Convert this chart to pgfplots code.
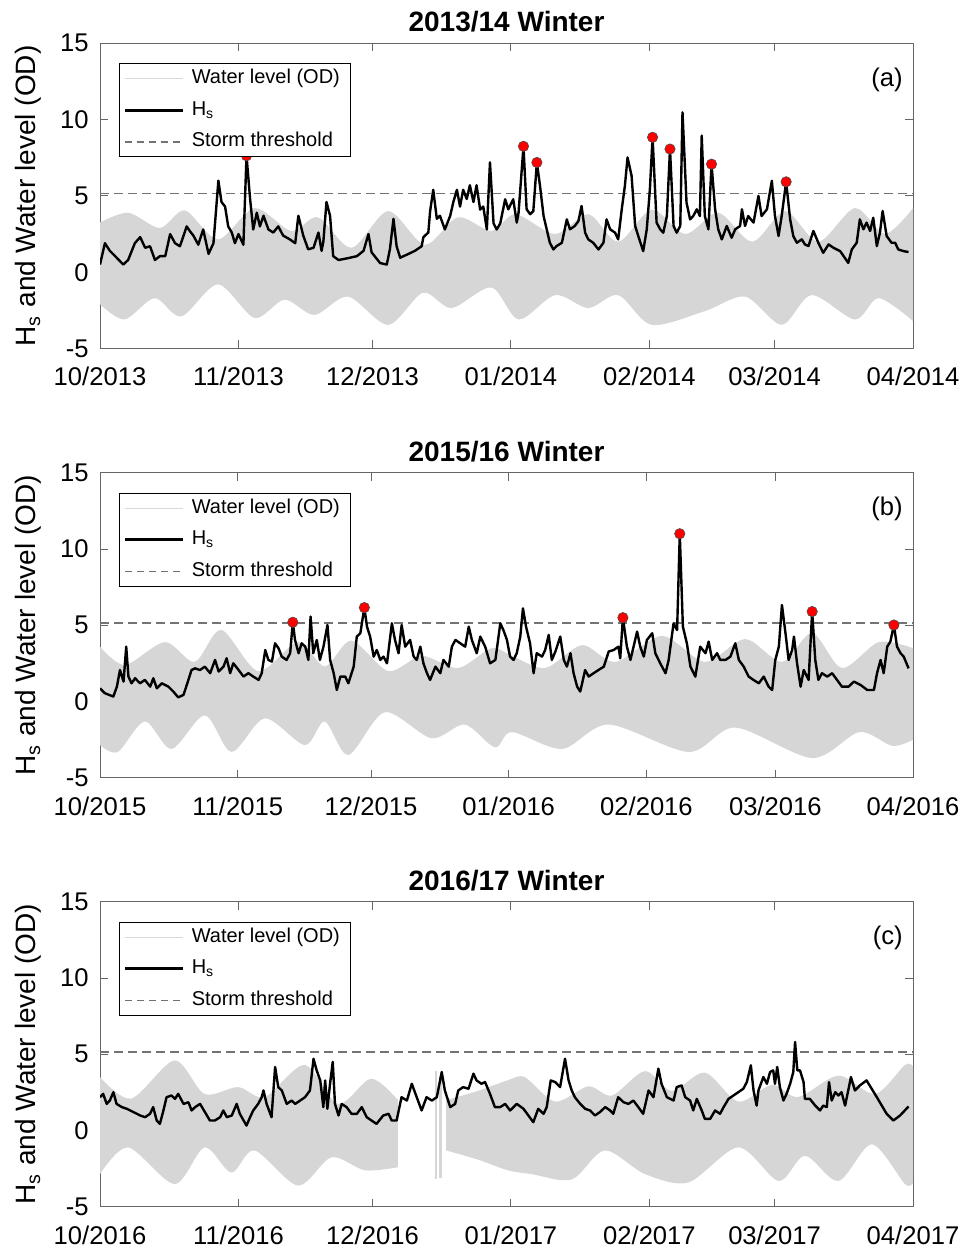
\documentclass[border=0pt]{standalone}
\usepackage{fontspec}
\setmainfont{Liberation Sans}
\usepackage{pgfplots}
\pgfplotsset{compat=1.18}
\usepgfplotslibrary{fillbetween}

\definecolor{wlgray}{gray}{0.84}
\definecolor{thrgray}{gray}{0.45}

\pgfplotsset{
  panel/.style={
    scale only axis, width=406.5pt, height=152.6pt,
    xmin=0, ymin=-5, ymax=15, ytick={-5,0,5,10,15},
    tick align=inside, major tick length=4pt,
    axis line style={black!60, line width=0.5pt},
    tick style={black!60, line width=0.5pt},
    ticklabel style={font=\fontsize{12.8}{15}\selectfont},
    xticklabel style={anchor=base, yshift=-18.7pt},
    yticklabel style={anchor=east, inner sep=0pt, xshift=-5.5pt},
    /pgf/number format/assume math mode=true,
    ylabel={H\textsubscript{s} and Water level (OD)},
    ylabel style={font=\fontsize{14}{16}\selectfont, at={(axis description cs:-0.079,0.5)}, anchor=base},
    every axis title shift=0pt,
    title style={font=\bfseries\fontsize{14}{16}\selectfont, at={(0.5,1)}, anchor=base, yshift=5.75pt},
    legend cell align=left,
    legend style={at={(0.0237,0.9345)}, anchor=north west, draw=black, line width=0.5pt,
      fill=white, inner xsep=2pt, inner ysep=2pt, row sep=4.8pt,
      font=\fontsize{10}{12}\selectfont,
      nodes={inner xsep=3.5pt, inner ysep=0pt, text height=8pt, text depth=3pt}},
    legend image code/.code={\draw[##1] (0pt,0pt) -- (29pt,0pt);},
  },
  hs/.style={black, line width=1.2pt, line join=round},
  thr/.style={thrgray, line width=0.8pt, dash pattern=on 4.5pt off 2.5pt},
  dots/.style={only marks, mark=*, mark size=2.6pt, mark options={fill=red, draw=black!70, line width=0.3pt}},
  band/.style={fill=wlgray, draw=none},
}

\newcommand{\legendthree}{%
  \addlegendimage{black!15, line width=0.5pt}\addlegendentry{Water level (OD)}
  \addlegendimage{black, line width=1.5pt}\addlegendentry{H\textsubscript{s}}
  \addlegendimage{thrgray, line width=0.7pt, dash pattern=on 3.5pt off 2.5pt}\addlegendentry{Storm threshold}
}

\begin{document}
\begin{tikzpicture}

% (a) 2013/14
\begin{axis}[panel, at={(50pt,-21.65pt)}, anchor=north west, xmax=182,
  xtick={0,31,61,92,123,151,182},
  xticklabels={10/2013,11/2013,12/2013,01/2014,02/2014,03/2014,04/2014},
  title={2013/14 Winter}]
\legendthree
\addplot[name path=ua, draw=none, smooth, forget plot] coordinates {
(0,3.25)(6.3,3.9)(13.4,2.9)(19,4.05)(26.4,2.15)(34.6,4.2)(42.8,2.7)(48.8,3.6)(56.3,1.6)
(64.5,4.0)(72.7,1.8)(80.1,3.6)(87.6,2.7)(93,3.8)(101.9,2.5)(109.3,3.8)(116,2.0)(123.5,4.1)
(131,2.5)(138.4,3.9)(146,2.0)(153.4,4.0)(160.8,2.0)(169,4.2)(175.7,2.5)(182,4.2)};
\addplot[name path=la, draw=none, smooth, forget plot] coordinates {
(0,-2.1)(5.5,-3.1)(12.2,-1.7)(18.2,-2.9)(26.4,-0.8)(34.6,-3.0)(41.3,-1.8)(48,-2.8)(55.5,-1.6)
(64.5,-3.45)(72.3,-1.35)(78.7,-2.35)(87.6,-1.0)(93.7,-3.1)(101.9,-1.5)(109.3,-2.35)(116,-1.5)
(123.5,-3.45)(135.4,-2.55)(144.4,-1.6)(152.6,-3.45)(159.3,-1.5)(169,-3.1)(174.3,-1.7)(182,-3.2)};
\addplot[band, forget plot] fill between[of=ua and la];
\addplot[thr, forget plot] coordinates {(0,5.15)(182,5.15)};
\addplot[hs, forget plot] coordinates {
(0,0.5)(1.1,1.9)(2.2,1.4)(3.4,1.05)(5.2,0.5)(6.3,0.8)(7.8,1.9)(9.0,2.3)(10.1,1.6)(11.2,1.7)
(12.3,0.8)(13.4,1.05)(14.6,1.05)(15.7,2.5)(16.8,1.9)(17.9,1.7)(19.4,3.0)(20.1,2.7)(20.9,2.4)
(22.0,1.8)(23.1,2.8)(24.3,1.2)(25.4,1.9)(26.5,6.0)(27.2,4.6)(28.0,4.3)(28.7,3.0)(29.5,2.6)
(30.2,1.9)(31.0,2.5)(32.1,1.8)(32.8,7.63)(33.6,4.8)(34.3,2.8)(35.1,3.9)(35.8,3.0)(36.6,3.7)
(37.7,2.8)(38.8,2.6)(39.9,3.0)(41.0,2.4)(42.5,2.15)(43.7,1.9)(44.4,3.7)(45.5,2.4)(46.6,1.5)
(47.8,1.6)(48.9,2.6)(49.6,1.4)(50.0,2.0)(50.7,4.6)(51.5,3.7)(52.2,1.05)(53.4,0.8)(55.2,0.9)
(57.5,1.05)(59.0,1.4)(60.1,2.5)(60.8,1.3)(62.7,0.6)(64.2,0.5)(64.9,1.5)(65.7,3.5)(66.4,1.7)
(67.2,0.95)(68.7,1.15)(70.5,1.4)(72.0,1.7)(72.4,2.3)(73.5,2.6)(73.9,4.0)(74.6,5.4)(75.4,3.5)
(76.1,3.7)(77.2,2.8)(78.4,3.7)(79.1,4.6)(79.9,5.4)(80.6,4.3)(81.3,5.4)(82.1,4.8)(82.8,5.7)
(83.6,4.6)(84.3,5.7)(85.1,4.1)(85.8,4.3)(86.6,2.8)(87.3,7.2)(88.1,3.2)(88.8,2.8)(89.6,3.2)
(90.7,4.78)(91.4,4.12)(92.5,4.78)(93.3,3.25)(93.7,3.9)(94.8,8.25)(95.5,4.12)(96.3,3.8)(97.0,4.0)
(97.8,7.19)(98.5,5.66)(99.3,3.68)(100.0,2.81)(100.7,1.93)(101.5,1.49)(102.2,1.71)(103.4,1.93)
(104.5,3.46)(105.2,2.81)(106.3,3.03)(107.1,3.35)(107.8,4.34)(108.6,2.59)(109.3,2.15)(110.4,1.93)
(111.6,1.49)(112.7,1.93)(113.4,3.46)(114.2,2.81)(115.3,2.59)(116.0,2.15)(116.8,4.12)(117.5,5.66)
(118.1,7.52)(119.0,6.32)(119.8,3.03)(120.5,2.37)(121.6,1.38)(122.4,2.81)(123.1,5.44)(123.7,8.84)
(124.6,3.25)(125.4,2.81)(126.1,2.59)(126.9,3.68)(127.6,8.07)(128.4,3.03)(129.1,2.59)(129.9,3.03)
(130.4,10.48)(131.3,4.56)(132.1,3.46)(132.8,3.68)(133.6,4.12)(134.3,3.68)(134.7,8.95)(135.4,3.68)
(136.2,2.81)(136.9,7.08)(137.7,4.12)(138.4,2.81)(139.2,2.15)(140.3,3.03)(141.4,2.26)(142.2,2.81)
(143.3,3.03)(143.7,4.12)(144.4,3.03)(145.1,3.68)(146.3,3.25)(147.4,5.0)(148.1,3.68)(149.3,4.12)
(150.4,5.99)(151.1,3.68)(151.9,2.37)(152.6,3.68)(153.6,5.92)(154.5,3.46)(155.2,2.37)(156.0,1.93)
(157.1,2.15)(157.8,1.82)(158.6,1.71)(159.7,2.7)(160.8,1.93)(161.9,1.27)(163.1,1.82)(164.2,1.6)
(165.7,1.38)(167.5,0.61)(168.3,1.49)(169.4,1.93)(170.1,3.46)(170.9,2.81)(171.6,3.25)(172.4,2.7)
(173.1,3.57)(173.9,1.71)(174.6,2.59)(175.2,4.01)(176.1,2.37)(177.2,1.93)(178.0,1.93)(178.7,1.49)
(179.9,1.38)(181.0,1.32)};
\addplot[dots, forget plot] coordinates {
(32.8,7.63)(94.8,8.25)(97.8,7.19)(123.7,8.84)(127.6,8.07)(136.9,7.08)(153.6,5.92)};
\node[anchor=east, inner sep=0pt, font=\fontsize{12.8}{15}\selectfont] at (rel axis cs:0.9877,0.88) {(a)};
\end{axis}

% (b) 2015/16
\begin{axis}[panel, at={(50pt,-236.35pt)}, anchor=north west, xmax=183,
  xtick={0,31,61,92,123,152,183},
  xticklabels={10/2015,11/2015,12/2015,01/2016,02/2016,03/2016,04/2016},
  title={2015/16 Winter}]
\legendthree
\addplot[name path=ub, draw=none, smooth, forget plot] coordinates {
(0,3.6)(5.6,2.4)(14.6,3.9)(21.3,2.6)(27.3,4.7)(35.6,2.0)(44.6,3.9)(50.6,2.3)(56.6,4.0)
(64.9,2.0)(72.4,3.0)(80.6,2.2)(88.1,3.5)(92.7,3.0)(100.2,2.2)(108.5,3.7)(116,2.6)(126.5,4.3)
(136.2,2.6)(145.2,4.1)(153.5,2.6)(160.3,4.5)(167,2.2)(175.3,3.9)(183,3.5)};
\addplot[name path=lb, draw=none, smooth, forget plot] coordinates {
(0,-2.85)(4,-3.3)(10.1,-1.3)(16.1,-3.1)(23.6,-0.9)(29.6,-3.3)(37.1,-1.1)(46.1,-2.85)(50.6,-1.3)
(55.9,-3.5)(64.1,-0.7)(74.6,-2.4)(82.1,-1.5)(88.9,-3.0)(92.7,-2.0)(104,-3.1)(114.5,-1.5)
(132.5,-3.3)(143,-1.7)(160.3,-3.7)(170.9,-2.0)(178.3,-2.9)(183,-2.5)};
\addplot[band, forget plot] fill between[of=ub and lb];
\addplot[thr, forget plot] coordinates {(0,5.15)(183,5.15)};
\addplot[hs, forget plot] coordinates {
(0,0.87)(1.1,0.55)(3.0,0.33)(3.8,0.98)(4.5,2.07)(5.3,1.31)(5.9,3.6)(6.4,1.64)(7.1,1.2)(7.9,1.53)
(9.0,1.2)(10.1,1.42)(11.3,0.98)(12.0,1.53)(12.8,0.87)(13.9,1.2)(15.4,0.98)(16.5,0.66)(17.6,0.28)
(18.8,0.44)(19.9,1.42)(20.6,2.07)(21.4,2.18)(22.5,2.07)(23.6,2.29)(24.8,1.86)(25.9,2.73)(26.7,1.97)
(27.8,2.29)(28.5,2.84)(29.3,1.86)(30.0,2.51)(31.2,2.07)(32.3,1.64)(33.4,1.86)(34.5,1.64)(35.7,1.42)
(36.4,1.86)(37.2,3.38)(37.9,2.73)(38.7,2.62)(39.4,3.82)(40.2,3.49)(40.9,2.95)(42.0,2.73)(42.8,3.17)
(43.4,5.2)(43.9,4.04)(44.7,3.17)(45.4,3.82)(46.2,3.6)(46.9,2.73)(47.4,5.57)(48.0,3.17)(48.8,4.04)
(49.5,2.73)(50.3,3.6)(51.2,5.02)(51.8,2.73)(52.6,1.86)(53.3,0.76)(54.1,1.64)(55.2,1.64)(55.9,1.2)
(57.1,2.29)(57.8,4.26)(58.6,4.48)(59.5,6.16)(60.1,4.91)(60.8,4.26)(61.6,2.95)(62.3,3.38)(63.1,2.73)
(63.8,2.95)(64.6,2.51)(65.7,5.13)(66.4,4.04)(67.2,3.17)(67.9,5.02)(68.7,3.6)(69.8,4.04)(70.6,2.95)
(71.3,2.73)(72.1,3.6)(72.8,2.51)(73.6,1.86)(74.3,1.42)(75.5,2.29)(76.6,1.86)(77.3,2.73)(78.5,2.29)
(79.2,3.6)(80.0,4.04)(81.1,3.82)(82.2,3.6)(83.0,4.91)(83.7,4.04)(84.8,3.17)(85.6,4.26)(86.7,3.6)
(87.8,2.51)(89.0,2.73)(90.1,5.13)(90.8,4.69)(91.6,4.04)(92.3,2.95)(93.1,2.73)(93.8,3.17)(94.6,4.26)
(95.2,6.11)(95.9,4.91)(96.8,3.82)(97.6,1.86)(98.3,3.17)(99.5,2.95)(100.2,3.38)(101.0,4.37)(101.7,2.73)
(102.5,3.28)(103.6,4.26)(104.4,2.73)(105.1,2.29)(105.9,3.17)(106.6,1.86)(107.4,0.98)(108.1,0.66)
(109.2,2.07)(110.0,1.64)(111.1,1.86)(112.2,2.07)(113.4,2.29)(114.5,3.28)(115.6,3.38)(116.7,3.6)
(117.1,2.84)(117.7,5.5)(118.6,3.6)(119.4,2.73)(120.1,3.6)(120.9,4.59)(121.6,3.6)(122.4,2.95)
(123.1,4.04)(124.3,4.48)(125.0,3.17)(126.1,2.51)(127.3,1.86)(128.0,2.73)(129.1,5.13)(129.9,4.69)
(130.5,11.0)(131.2,4.91)(132.1,3.82)(132.9,2.29)(134.0,1.64)(135.1,3.6)(136.3,3.17)(137.0,3.93)
(137.8,2.73)(138.9,3.17)(139.6,2.73)(140.8,2.73)(141.9,2.95)(143.0,3.82)(143.8,2.73)(144.9,2.29)
(146.0,1.64)(147.1,1.42)(148.3,1.2)(149.4,1.64)(150.5,0.98)(151.3,0.76)(152.0,2.73)(152.8,3.6)
(153.5,6.33)(154.3,4.48)(155.0,2.73)(155.8,3.38)(156.2,4.26)(156.9,2.51)(157.7,0.98)(158.4,2.07)
(159.5,1.42)(160.3,5.9)(161.0,2.73)(161.7,1.42)(162.5,1.86)(163.7,1.64)(164.8,1.86)(165.9,1.42)
(167.0,0.98)(168.5,0.98)(169.7,1.31)(171.2,1.09)(172.7,0.76)(174.2,0.76)(174.9,1.86)(175.7,2.73)
(176.4,1.86)(177.2,3.6)(177.9,3.93)(178.7,5.02)(179.4,3.6)(180.2,3.17)(180.9,2.95)(182.0,2.18)};
\addplot[dots, forget plot] coordinates {
(43.4,5.2)(59.5,6.16)(117.7,5.5)(130.5,11.0)(160.3,5.9)(178.7,5.02)};
\node[anchor=east, inner sep=0pt, font=\fontsize{12.8}{15}\selectfont] at (rel axis cs:0.9877,0.88) {(b)};
\end{axis}

% (c) 2016/17
\begin{axis}[panel, at={(50pt,-450.85pt)}, anchor=north west, xmax=182,
  xtick={0,31,61,92,123,151,182},
  xticklabels={10/2016,11/2016,12/2016,01/2017,02/2017,03/2017,04/2017},
  title={2016/17 Winter}]
\legendthree
\addplot[name path=uc1, draw=none, smooth, forget plot] coordinates {
(0,3.5)(7,2.1)(16.7,4.6)(23.4,2.4)(30.9,2.85)(36.9,2.2)(45.8,4.3)(53.3,1.75)(60.7,3.4)(66.7,2.0)};
\addplot[name path=lc1, draw=none, smooth, forget plot] coordinates {
(0,-2.85)(6.3,-1.1)(16.7,-3.5)(23.4,-1.1)(29.4,-2.75)(34.6,-1.3)(44.3,-3.6)(51.8,-1.75)(59.3,-2.6)(66.7,-2.4)};
\addplot[band, forget plot] fill between[of=uc1 and lc1];
\addplot[band, forget plot] coordinates {(74.9,3.9)(75.5,3.9)(75.5,-3.2)(74.9,-3.2)} -- cycle;
\addplot[band, forget plot] coordinates {(75.9,3.6)(76.5,3.6)(76.5,-3.1)(75.9,-3.1)} -- cycle;
\addplot[name path=uc2, draw=none, smooth, forget plot] coordinates {
(77.5,2.0)(84.6,2.6)(91.3,3.3)(95.1,3.5)(101.9,1.9)(109.3,2.9)(114.6,2.3)(122,3.9)(128,2.6)
(135.4,3.8)(142.9,1.9)(150.4,3.0)(156.3,2.2)(165.3,3.6)(173.5,2.4)(180.2,4.3)(182,4.2)};
\addplot[name path=lc2, draw=none, smooth, forget plot] coordinates {
(77.5,-1.3)(84.6,-1.9)(91.3,-2.6)(96.6,-2.85)(105.6,-3.2)(113,-1.3)(122,-2.85)(131.7,-3.4)
(142.9,-1.1)(151.9,-3.3)(157.8,-1.65)(165.3,-3.3)(172.8,-0.9)(180.2,-3.5)(182,-3.4)};
\addplot[band, forget plot] fill between[of=uc2 and lc2];
\addplot[thr, forget plot] coordinates {(0,5.15)(182,5.15)};
\addplot[hs, forget plot] coordinates {
(0,2.19)(0.7,2.41)(1.5,1.75)(2.2,1.97)(3.0,2.52)(3.7,1.75)(4.9,1.54)(6.0,1.43)(7.5,1.21)(9.0,0.99)
(10.1,0.88)(11.2,1.1)(11.9,1.54)(12.7,0.66)(13.4,0.44)(14.2,1.32)(14.9,2.19)(16.0,2.3)(16.8,2.08)
(17.5,2.41)(18.7,1.75)(19.8,1.86)(20.5,1.32)(21.3,1.54)(22.4,1.75)(23.5,1.21)(24.6,0.66)(25.7,0.66)
(26.9,0.88)(27.6,1.32)(28.4,0.88)(29.5,0.99)(30.6,1.75)(31.3,1.1)(32.8,0.33)(33.6,0.88)(34.3,1.32)
(35.4,1.75)(36.2,2.19)(36.6,2.63)(37.3,1.75)(38.4,0.88)(39.2,4.17)(39.9,2.85)(40.7,2.63)(41.8,1.75)
(42.9,1.97)(43.7,1.75)(44.8,1.97)(45.9,2.19)(47.0,2.63)(47.8,4.71)(48.5,3.95)(49.3,3.29)(50.0,1.54)
(50.4,3.29)(50.9,1.43)(51.5,3.07)(52.1,4.5)(52.6,1.75)(53.4,0.99)(54.1,1.75)(55.2,1.54)(56.3,1.1)
(57.5,1.1)(58.6,1.54)(59.7,0.88)(60.8,0.66)(61.9,0.44)(63.4,0.99)(64.6,1.1)(65.3,0.66)(66.4,0.66)
(67.5,2.19)(68.7,1.97)(69.8,3.07)(70.9,2.19)(72.0,1.32)(73.1,2.19)(74.3,1.97)(75.4,2.19)(76.5,3.84)
(77.2,2.63)(78.4,1.54)(79.5,1.75)(80.2,2.63)(81.3,2.85)(82.5,2.74)(83.6,3.73)(84.3,3.29)(85.4,3.07)
(86.2,3.18)(87.3,2.41)(88.4,1.54)(89.6,1.54)(90.7,1.75)(91.8,1.32)(93.3,1.75)(94.8,1.43)(95.9,0.99)
(97.0,0.55)(98.1,1.43)(99.3,1.1)(100.0,1.54)(100.9,3.29)(101.9,3.18)(103.0,2.85)(104.1,4.71)
(104.9,3.29)(105.6,2.63)(106.3,2.19)(107.5,1.75)(108.6,1.43)(109.7,1.32)(110.8,0.99)(111.9,1.21)
(113.1,1.54)(114.2,1.32)(114.9,1.1)(116.0,2.19)(117.2,1.86)(118.3,1.75)(119.4,1.97)(120.5,1.54)
(121.6,1.1)(122.8,2.63)(123.9,2.19)(125.0,4.06)(125.7,3.07)(126.9,2.19)(128.4,1.97)(129.1,2.85)
(130.2,2.96)(131.0,2.19)(132.1,1.97)(132.8,1.32)(133.6,2.08)(134.7,1.32)(135.4,0.77)(136.6,0.77)
(137.7,1.32)(138.8,1.1)(139.6,1.54)(140.7,2.08)(141.8,2.3)(142.9,2.52)(144.0,2.74)(144.8,3.18)
(145.7,4.28)(146.3,2.63)(147.0,1.64)(147.4,2.63)(148.5,3.51)(149.3,3.07)(150.0,3.84)(150.7,3.95)
(151.1,3.07)(151.6,4.17)(152.2,2.85)(153.0,1.97)(153.7,2.41)(154.5,3.07)(155.2,3.84)(155.6,5.81)
(156.1,3.95)(156.7,3.95)(157.5,3.18)(157.8,2.08)(158.9,2.08)(160.1,1.64)(161.2,1.32)(161.9,1.64)
(162.7,1.54)(163.2,3.18)(163.8,1.97)(164.6,2.52)(165.3,2.3)(166.0,2.52)(166.8,1.64)(167.5,2.63)
(168.1,3.51)(169.0,2.63)(170.1,2.96)(171.6,3.29)(173.9,2.19)(176.1,1.1)(177.6,0.66)(179.1,0.99)
(181.0,1.58)};
\node[anchor=east, inner sep=0pt, font=\fontsize{12.8}{15}\selectfont] at (rel axis cs:0.9877,0.88) {(c)};
\end{axis}

\pgfresetboundingbox
\path[use as bounding box] (0,0) rectangle (481.5pt,-623.5pt);
\end{tikzpicture}
\end{document}
